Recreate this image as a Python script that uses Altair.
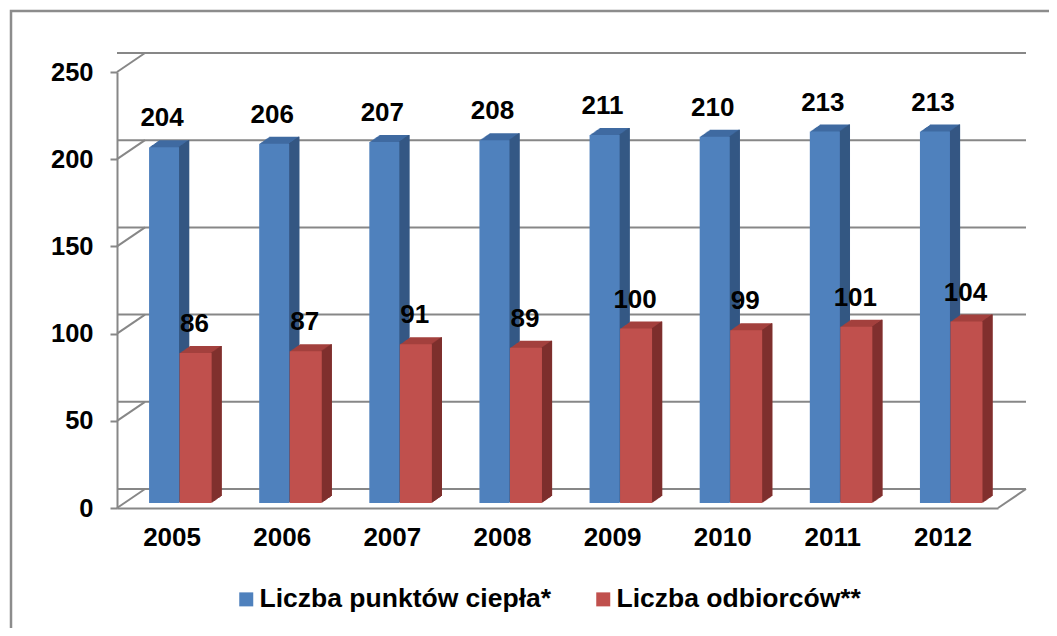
import altair as alt
import pandas as pd

# ---- data ----
years = ["2005", "2006", "2007", "2008", "2009", "2010", "2011", "2012"]
punkty = [204, 206, 207, 208, 211, 210, 213, 213]
odbiorcy = [86, 87, 91, 89, 100, 99, 101, 104]
series = ["Liczba punktów ciepła*", "Liczba odbiorców**"]
y_ticks = [0, 50, 100, 150, 200, 250]

rows = []
for yr, a, b in zip(years, punkty, odbiorcy):
    rows.append({"year": yr, "series": series[0], "value": a})
    rows.append({"year": yr, "series": series[1], "value": b})
df = pd.DataFrame(rows)
ticks_df = pd.DataFrame({"tick": y_ticks})
floor_df = pd.DataFrame({"tick": [0]})
one_df = pd.DataFrame({"a": [0]})

# ---- style ----
FONT = "Liberation Sans"
W, H = 881, 436
DX, DY = 28, -19          # back-wall depth
PY = -5                   # bar plane vertical shift
BD_X, BD_Y = 10, -0.7     # bar depth per step
GRID = "#878787"
BLUE, BLUE_TOP, BLUE_SIDE = "#4F81BD", "#3F6AA1", "#345783"
RED, RED_TOP, RED_SIDE = "#C0504D", "#A3403D", "#7E2F2D"

x_axis = alt.Axis(title=None, labelAngle=0, ticks=False, domainColor=GRID,
                  domainWidth=2, labelFont=FONT, labelFontSize=26,
                  labelFontWeight="bold", labelColor="#000000",
                  labelPadding=16, grid=False)
y_axis = alt.Axis(title=None, values=y_ticks, grid=False, domainColor=GRID,
                  domainWidth=2, tickColor=GRID, tickWidth=2, tickSize=7,
                  labelPadding=17, labelFont=FONT, labelFontSize=25.5,
                  labelFontWeight="bold", labelColor="#000000")


def X():
    return alt.X("year:N", sort=years,
                 scale=alt.Scale(paddingInner=0, paddingOuter=0),
                 axis=x_axis)


def Y(field="value"):
    return alt.Y(f"{field}:Q", scale=alt.Scale(domain=[0, 250], nice=False),
                 axis=y_axis)


color_scale = alt.Scale(domain=series, range=[BLUE, RED])

layers = []

# back-wall gridlines
layers.append(alt.Chart(ticks_df).mark_rule(
    color=GRID, strokeWidth=2, xOffset=DX, x2Offset=DX, yOffset=DY
).encode(y=Y("tick")))
# left-wall diagonals
layers.append(alt.Chart(ticks_df).mark_rule(
    color=GRID, strokeWidth=2, y2Offset=DY
).encode(y=Y("tick"), y2="tick:Q", x=alt.value(0), x2=alt.value(DX)))
# right floor edge
layers.append(alt.Chart(floor_df).mark_rule(
    color=GRID, strokeWidth=2, y2Offset=DY
).encode(y=Y("tick"), y2="tick:Q", x=alt.value(W), x2=alt.value(W + DX)))

specs = [
    (series[0], -8, 30, BLUE_TOP, BLUE_SIDE, -10),
    (series[1], 23.5, 32, RED_TOP, RED_SIDE, 22.5),
]
for name, cx, bw, ctop, cside, tdx in specs:
    base = alt.Chart(df).transform_filter(alt.datum.series == name)
    # extruded top face
    for k in range(1, 11):
        oy = PY + BD_Y * k
        layers.append(base.mark_bar(
            width=bw, xOffset=cx + k, yOffset=oy, y2Offset=oy, color=ctop
        ).encode(x=X(), y=Y()))
    # side face
    for k in range(1, 11):
        oy = PY + BD_Y * k
        layers.append(base.mark_bar(
            width=1.4, xOffset=cx + bw / 2 + k - 0.5, yOffset=oy, y2Offset=oy,
            color=cside
        ).encode(x=X(), y=Y()))
    # front face
    layers.append(base.mark_bar(
        width=bw, xOffset=cx, yOffset=PY, y2Offset=PY
    ).encode(x=X(), y=Y(),
             color=alt.Color("series:N", scale=color_scale, sort=series,
                             legend=alt.Legend(title=None))))
    # value labels
    layers.append(base.mark_text(
        dx=tdx, dy=-34, baseline="middle", align="center", font=FONT,
        fontSize=26, fontWeight="bold", color="#000000"
    ).encode(x=X(), y=Y(), text="value:Q"))

# outer frame
layers.append(alt.Chart(one_df).mark_rect(
    fillOpacity=0, stroke="#8C8C8C", strokeWidth=2.5
).encode(x=alt.value(-106), y=alt.value(-61),
         x2=alt.value(W + 300), y2=alt.value(H + 300)))

chart = alt.layer(*layers).properties(
    width=W, height=H,
    autosize=alt.AutoSizeParams(type="none"),
    padding={"left": 109, "top": 64, "right": 51, "bottom": 120},
).configure_view(stroke=None).configure_legend(
    orient="none", legendX=116, legendY=514, direction="horizontal",
    symbolType="square", symbolSize=196, symbolStrokeWidth=0,
    symbolOpacity=1, labelFont=FONT, labelFontSize=26.5,
    labelFontWeight="bold", labelColor="#000000", labelOffset=0,
    columnPadding=38, padding=0, labelLimit=0
)

chart.save("out.html", embed_options={"renderer": "svg", "actions": False})
